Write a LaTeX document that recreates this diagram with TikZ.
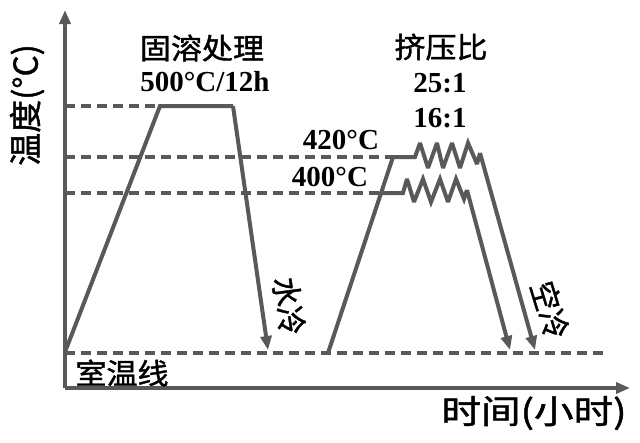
\documentclass[tikz,border=0pt]{standalone}
\usepackage{fontspec}
\setmainfont{Liberation Serif}
\newfontfamily\cjk[FakeBold=1.3]{Noto Sans CJK SC}
\usetikzlibrary{arrows.meta}
\definecolor{lc}{HTML}{595959}
\begin{document}
\begin{tikzpicture}[x=1pt,y=-1pt,
  ln/.style={draw=lc, line width=4pt, line join=miter, miter limit=3},
  dsh/.style={draw=lc, line width=4pt, dash pattern=on 10pt off 6pt},
  arr/.style={-{Triangle[length=14pt,width=11pt]}, draw=lc, fill=lc},
  cn/.style={font=\cjk\fontsize{29}{30}\selectfont, inner sep=0pt, xscale=1.07},
  cnb/.style={font=\cjk\fontsize{33}{34}\selectfont, inner sep=0pt},
  nm/.style={font=\bfseries\fontsize{29}{30}\selectfont, inner sep=0pt}]
\useasboundingbox (0,0) rectangle (640,442);
% axes
\coordinate (O) at (65,388);
\coordinate (Ytop) at (65,10);
\coordinate (Xend) at (630,388);
\draw[ln,arr] (O) -- (Ytop);
\draw[ln,arr] (O) -- (Xend);
% level coordinates
\coordinate (L500) at (65,106);
\coordinate (L420) at (65,157);
\coordinate (L400) at (65,193);
\coordinate (LRT) at (65,353);
\coordinate (RTend) at (605,353);
% solution treatment
\coordinate (S0) at (65,352);
\coordinate (S1) at (160,106);
\coordinate (S2) at (233,106);
\coordinate (S3) at (268,350);
% extrusion
\coordinate (E0) at (328,353);
\coordinate (E1) at (393,157);
\coordinate (E2) at (415,157);
\coordinate (F0) at (382,193);
\coordinate (F1) at (403,193);
\coordinate (Eend) at (535,350);
\coordinate (Fend) at (510,350);
% dashed levels
\draw[dsh] (L500) -- (S1);
\draw[dsh] (L420) -- (E1);
\draw[dsh] (L400) -- (F0);
\draw[dsh] (LRT) -- (RTend);
% solution treatment path
\draw[ln] (S0) -- (S1) -- (S2);
\draw[ln,arr] (S2) -- (S3);
% extrusion 420
\draw[ln] (E0) -- (E1) -- (E2) -- (420,143) -- (428,168) -- (437,143) -- (443,168) -- (452,143) -- (460,168) -- (468,143) -- (477,164) -- (480,153) coordinate (Etop);
\draw[ln,arr] (Etop) -- (Eend);
% extrusion 400
\draw[ln] (F0) -- (F1) -- (407,179) -- (414,202) -- (423,179) -- (431,202) -- (440,179) -- (448,202) -- (456,179) -- (464,199) -- (467,190) coordinate (Ftop);
\draw[ln,arr] (Ftop) -- (Fend);
% labels
\node[cn] (t1) at (202,48) {固溶处理};
\node[nm] (t2) at (205,82) {500°C/12h};
\node[cn] (t3) at (441,47) {挤压比};
\node[nm] (t4) at (440,83) {25:1};
\node[nm] (t5) at (440,118) {16:1};
\node[nm] (t6) at (341,140) {420°C};
\node[nm] (t7) at (330,177) {400°C};
\node[cnb,rotate=90] (t8) at (27,105) {温度(°C)};
\node[cn] (t9) at (122,373) {室温线};
\node[cnb,xscale=1.2] (t10) at (534,413) {时间(小时)};
\node[cn,rotate=-82] (t11) at (289,306) {水冷};
\node[cn,rotate=-74] (t12) at (550,310) {空冷};
\end{tikzpicture}
\end{document}
